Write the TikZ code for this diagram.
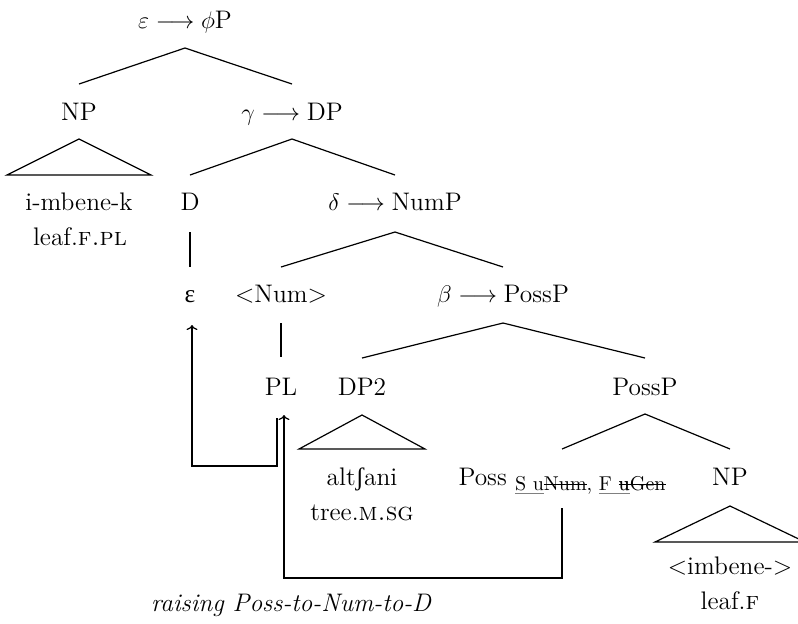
\documentclass[tikz,border=0pt]{standalone}
\usepackage{fontspec}
\usepackage{xcolor}
\usetikzlibrary{arrows.meta}
\newfontfamily\lbs{Liberation Serif}
\newsavebox\mystrbox
\newcommand\strk[1]{\sbox\mystrbox{#1}\rlap{\rule[0.6ex]{\wd\mystrbox}{0.45pt}}\usebox\mystrbox}
\newcommand\gul[1]{\sbox\mystrbox{#1}\rlap{\textcolor{gray}{\rule[-0.45ex]{\wd\mystrbox}{0.5pt}}}\usebox\mystrbox}
\begin{document}
\begin{tikzpicture}[x=0.5pt,y=-0.5pt,line width=0.6pt,
  lab/.style={anchor=base,inner sep=0pt,font=\fontsize{12.7}{15}\selectfont},
  capt/.style={anchor=base,inner sep=0pt,font=\fontsize{12.7}{15}\selectfont\itshape},
  mv/.style={-{To[width=5.5pt,length=2.5pt]}}]
\useasboundingbox (0,0) rectangle (798,623);
% labels
\node[lab] (root) at (185,28) {$\varepsilon\longrightarrow\phi$P};
\node[lab] (np1) at (79,120) {NP};
\node[lab] (dp) at (292,120) {$\gamma\longrightarrow{}$DP};
\node[lab] (imb) at (79,210) {i-mbene-k};
\node[lab] (leafpl) at (80,245) {leaf.\textsc{f.pl}};
\node[lab] (d) at (190,210) {D};
\node[lab] (nump) at (395,210) {$\delta\longrightarrow{}$NumP};
\node[lab] (eps) at (190,302) {{\lbs ε}};
\node[lab] (num) at (281,302) {<Num>};
\node[lab] (possp1) at (503,302) {$\beta\longrightarrow{}$PossP};
\node[lab] (pl) at (281,395) {PL};
\node[lab] (dp2) at (362,395) {DP2};
\node[lab] (possp2) at (645,395) {PossP};
\node[lab] (alt) at (362,485) {alt{\lbs ʃ}ani};
\node[lab] (tree) at (362,520) {tree.\textsc{m.sg}};
\node[lab] (poss) at (562,485) {Poss \raisebox{-2.5pt}{\fontsize{10}{12}\selectfont\gul{S u}\strk{Num}, \gul{F u}\hspace{-\fontcharwd\font`u}\strk{uGen}}};
\node[lab] (np2) at (730,485) {NP};
\node[lab] (imb2) at (730,574) {<imbene->};
\node[lab] (leaff) at (730,609) {leaf.\textsc{f}};
\node[capt] (cap) at (291,611) {raising Poss-to-Num-to-D};
% tree edges
\draw ([yshift=-10pt]root.base) -- ([yshift=18pt]np1.base);
\draw ([yshift=-10pt]root.base) -- ([yshift=18pt]dp.base);
\draw ([yshift=-9.5pt]np1.base) -- ++(-72,36) -- ++(144,0) -- cycle;
\draw ([yshift=-9.5pt]dp.base) -- ([yshift=17.5pt]d.base);
\draw ([yshift=-9.5pt]dp.base) -- ([yshift=17.5pt]nump.base);
\draw ([yshift=-11pt]d.base) -- ([yshift=17.5pt]eps.base);
\draw ([yshift=-11pt]nump.base) -- ([yshift=17.5pt]num.base);
\draw ([yshift=-11pt]nump.base) -- ([yshift=17.5pt]possp1.base);
\draw ([yshift=-10.5pt]num.base) -- ([yshift=19pt]pl.base);
\draw ([yshift=-10.5pt]possp1.base) -- ([yshift=18.5pt]dp2.base);
\draw ([yshift=-10.5pt]possp1.base) -- ([yshift=18.5pt]possp2.base);
\draw ([yshift=-10pt]dp2.base) -- ++(-63,34) -- ++(126,0) -- cycle;
\draw ([yshift=-9.5pt]possp2.base) -- ([yshift=18pt]poss.base);
\draw ([yshift=-9.5pt]possp2.base) -- ([yshift=18pt]np2.base);
\draw ([yshift=-10.5pt]np2.base) -- ++(-75,36) -- ++(150,0) -- cycle;
% movement arrows
\draw[mv] ([yshift=-11.5pt]poss.base) -- ++(0,70) -| ([xshift=1.5pt,yshift=-10pt]pl.base);
\draw[mv] ([xshift=-2pt,yshift=-11.5pt]pl.base) -- ++(0,48) -| ([xshift=1pt,yshift=-11.5pt]eps.base);
\end{tikzpicture}
\end{document}
